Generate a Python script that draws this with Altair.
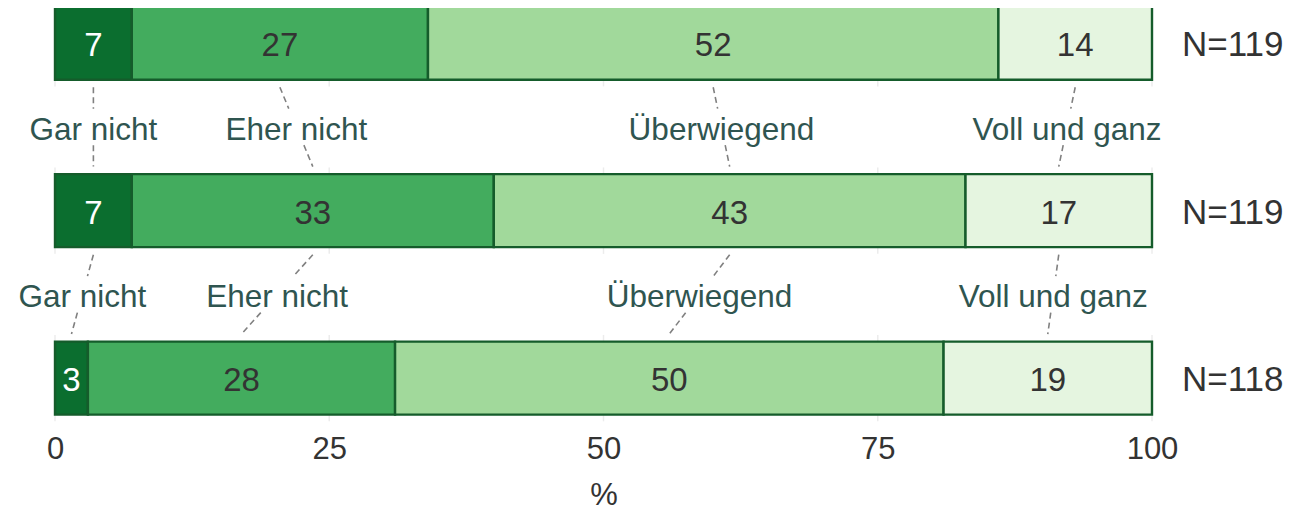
import altair as alt
import pandas as pd

categories = ["Gar nicht", "Eher nicht", "Überwiegend", "Voll und ganz"]
row1 = [7, 27, 52, 14]
row2 = [7, 33, 43, 17]
row3 = [3, 28, 50, 19]
n_labels = ["N=119", "N=119", "N=118"]
tick_values = [0, 25, 50, 75, 100]
colors = ["#0b6e2f", "#43ac5e", "#a1d99b", "#e5f5e0"]
text_colors = ["#ffffff", "#333333", "#333333", "#333333"]

rows = [row1, row2, row3]
HALF = 0.218
GAP = 0.045

seg = []
mids = []
for i, r in enumerate(rows):
    start = 0
    m = []
    for j, v in enumerate(r):
        seg.append({"row": i, "cat": categories[j], "order": j, "start": start,
                    "end": start + v, "mid": start + v / 2, "value": v,
                    "y0": i - HALF, "y1": i + HALF, "tcol": text_colors[j]})
        m.append(start + v / 2)
        start += v
    mids.append(m)
seg_df = pd.DataFrame(seg)

conn = []
labs = []
for g in range(len(rows) - 1):
    for j, c in enumerate(categories):
        xa, xb = mids[g][j], mids[g + 1][j]
        ya, yb = g + HALF + GAP, g + 1 - HALF - GAP
        for t0, t1 in [(0.0, 0.27), (0.73, 1.0)]:
            conn.append({"x": xa + (xb - xa) * t0, "x2": xa + (xb - xa) * t1,
                         "y": ya + (yb - ya) * t0, "y2": ya + (yb - ya) * t1})
        labs.append({"x": (xa + xb) / 2, "y": g + 0.5, "label": c})
conn_df = pd.DataFrame(conn)
lab_df = pd.DataFrame(labs)

n_df = pd.DataFrame({"row": list(range(len(rows))), "label": n_labels, "x": [100] * len(rows)})
grid_df = pd.DataFrame([{"x": t, "y": i - HALF - 0.04, "y2": i + HALF + 0.04}
                        for i in range(len(rows)) for t in tick_values])

FONT = "Liberation Sans"
xscale = alt.Scale(domain=[0, 100], nice=False)
yscale = alt.Scale(domain=[-0.21, 2.25], reverse=True)

grid = alt.Chart(grid_df).mark_rule(color="#ececec", strokeWidth=1.5).encode(
    x=alt.X("x:Q", scale=xscale,
            axis=alt.Axis(values=tick_values, labelFontSize=31, labelColor="#333333",
                          labelFont=FONT, domain=False, ticks=False, grid=False,
                          labelFlush=False, labelPadding=14, title="%", titleFontSize=31,
                          titleFont=FONT, titleFontWeight="normal", titleColor="#333333",
                          titlePadding=16)),
    y=alt.Y("y:Q", scale=yscale, axis=None),
    y2="y2:Q",
)

bars = alt.Chart(seg_df).mark_rect(stroke="#155c2b", strokeWidth=2.4).encode(
    x=alt.X("start:Q", scale=xscale),
    x2="end:Q",
    y=alt.Y("y0:Q", scale=yscale),
    y2="y1:Q",
    color=alt.Color("cat:N", scale=alt.Scale(domain=categories, range=colors), legend=None),
)

nums = alt.Chart(seg_df).mark_text(fontSize=33, font=FONT, baseline="middle", dy=3).encode(
    x=alt.X("mid:Q", scale=xscale),
    y=alt.Y("row:Q", scale=yscale),
    text="value:Q",
    color=alt.Color("tcol:N", scale=None),
)

lines = alt.Chart(conn_df).mark_rule(color="#808080", strokeWidth=1.6, strokeDash=[6, 4]).encode(
    x=alt.X("x:Q", scale=xscale), x2="x2:Q",
    y=alt.Y("y:Q", scale=yscale), y2="y2:Q",
)

labels = alt.Chart(lab_df).mark_text(fontSize=31.5, font=FONT, color="#2f5550",
                                     baseline="middle", dy=4).encode(
    x=alt.X("x:Q", scale=xscale),
    y=alt.Y("y:Q", scale=yscale),
    text="label:N",
)

ns = alt.Chart(n_df).mark_text(fontSize=35, font=FONT, color="#333333", align="left",
                               baseline="middle", dx=30, dy=2).encode(
    x=alt.X("x:Q", scale=xscale),
    y=alt.Y("row:Q", scale=yscale),
    text="label:N",
)

chart = alt.layer(grid, bars, nums, lines, labels, ns).properties(
    width=1097, height=412,
    autosize=alt.AutoSizeParams(type="none"),
    padding={"left": 47, "top": 0, "right": 152, "bottom": 93},
).configure_view(stroke=None)

chart.save("out.html", embed_options={"renderer": "svg", "actions": False})
